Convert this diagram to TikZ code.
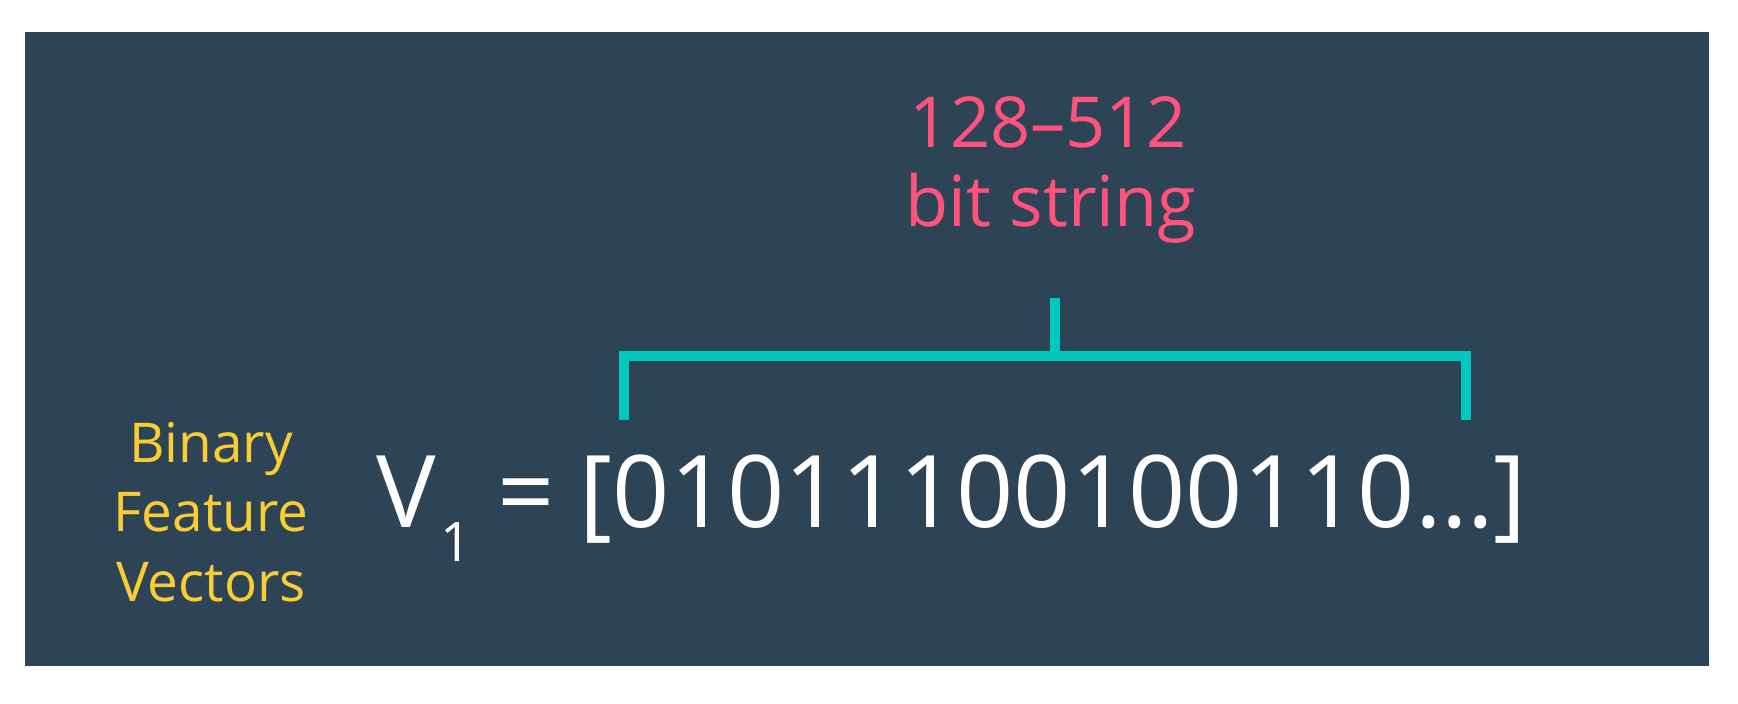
\documentclass[tikz,border=0pt]{standalone}
\usepackage{fontspec}
\setmainfont{Open Sans}
\definecolor{panel}{RGB}{45,67,86}
\definecolor{tealline}{RGB}{0,200,190}
\definecolor{pinktext}{RGB}{255,82,124}
\definecolor{goldtext}{RGB}{250,205,50}

\begin{document}
\begin{tikzpicture}[x=0.01cm,y=-0.01cm]
  \tikzstyle{every node}=[inner sep=0pt, anchor=base]
  \tikzstyle{bits}=[font=\fontsize{28.5}{34}\selectfont, text=white]
  \tikzstyle{index}=[font=\fontsize{15.5}{18}\selectfont, text=white]
  \tikzstyle{caption}=[font=\fontsize{20}{24}\selectfont, text=pinktext]
  \tikzstyle{side}=[font=\fontsize{15.6}{20}\selectfont, text=goldtext]
  \tikzstyle{bracket}=[draw=tealline, line width=0.1cm, line join=miter]
  \useasboundingbox (0,0) rectangle (1738,704);
  \fill[panel] (25,32) rectangle (1709,666);
  % labels above
  \node[caption] (range) at (1048,148) {128–512};
  \node[caption] (kind) at (1051,227) {bit string};
  % side label
  \node[side] (bin) at (211,463) {Binary};
  \node[side] (feat) at (211,532) {Feature};
  \node[side] (vects) at (211,602) {Vectors};
  % the vector
  \node[bits, anchor=base west] (vname) at (376,528) {V};
  \node[index, anchor=base west] (vidx) at (440,562) {1};
  \node[bits, anchor=base west] (eq) at (497,528) {=};
  \node[bits, anchor=base west] (vec) at (579,528) {[01011100100110…]};
  % bracket over the bits
  \coordinate (brl) at (624,420);
  \coordinate (brtl) at (624,356);
  \coordinate (brtr) at (1466,356);
  \coordinate (brr) at (1466,420);
  \coordinate (stemb) at (1055,356);
  \coordinate (stemt) at (1055,298);
  \draw[bracket] (brl) -- (brtl) -- (brtr) -- (brr);
  \draw[bracket] (stemb) -- (stemt);
\end{tikzpicture}
\end{document}
